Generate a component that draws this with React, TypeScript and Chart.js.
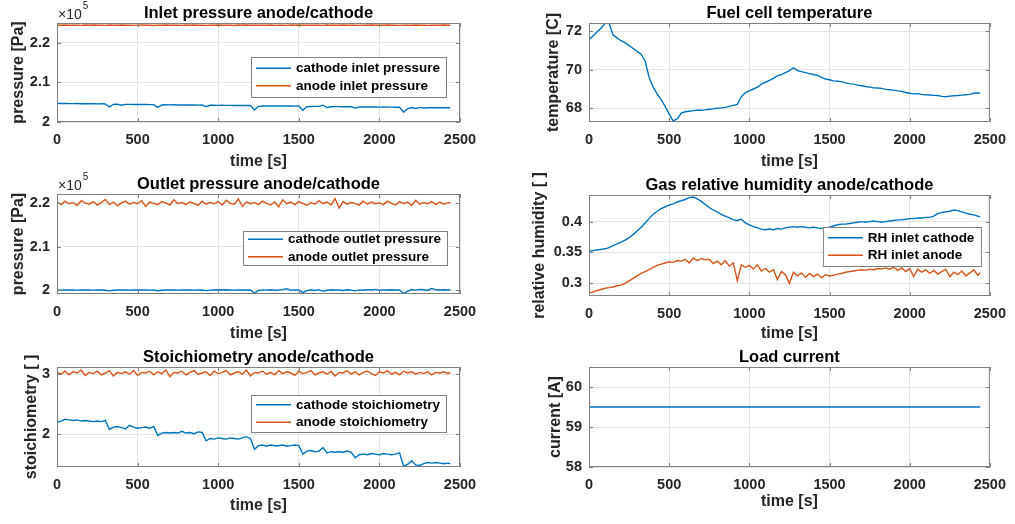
import React, { useEffect, useRef } from 'react';
import { Chart, registerables } from 'chart.js';

Chart.register(...registerables);

// ---------------- DATA ----------------
const timeS = [
  0, 25, 50, 75, 100, 125, 150, 175, 200, 225,
  250, 275, 300, 325, 350, 375, 400, 425, 450, 475,
  500, 525, 550, 575, 600, 625, 650, 675, 700, 725,
  750, 775, 800, 825, 850, 875, 900, 925, 950, 975,
  1000, 1025, 1050, 1075, 1100, 1125, 1150, 1175, 1200, 1225,
  1250, 1275, 1300, 1325, 1350, 1375, 1400, 1425, 1450, 1475,
  1500, 1525, 1550, 1575, 1600, 1625, 1650, 1675, 1700, 1725,
  1750, 1775, 1800, 1825, 1850, 1875, 1900, 1925, 1950, 1975,
  2000, 2025, 2050, 2075, 2100, 2125, 2150, 2175, 2200, 2225,
  2250, 2275, 2300, 2325, 2350, 2375, 2400, 2425, 2440,
];

const cathodeInletPressure = [
  204700, 204680, 204700, 204660, 204650, 204660, 204620, 204640, 204600, 204610,
  204580, 204590, 204560, 203800, 204450, 204480, 204250, 204440, 204460, 204420,
  204430, 204410, 204420, 204400, 204390, 203700, 204300, 204350, 204330, 204340,
  204310, 204320, 204300, 204290, 204300, 204270, 204280, 203850, 204220, 204230,
  204200, 204220, 204190, 204200, 204170, 204180, 204160, 204170, 204150, 203000,
  203950, 204050, 204070, 204050, 204060, 204040, 204050, 204030, 204040, 204020,
  204030, 202950, 203850, 203930, 203950, 203940, 204250, 203650, 203850, 203880,
  203870, 203860, 203870, 203850, 203500, 203780, 203800, 203790, 203770, 203780,
  203760, 203770, 203750, 203760, 203740, 203720, 202500, 203300, 203650, 203400,
  203700, 203550, 203600, 203620, 203600, 203610, 203590, 203600, 203600,
];

const anodeInletPressure = [
  224480, 224430, 224500, 224420, 224470, 224450, 224390, 224480, 224440, 224510,
  224430, 224460, 224400, 224480, 224450, 224420, 224490, 224440, 224470, 224410,
  224460, 224500, 224430, 224450, 224380, 224470, 224440, 224490, 224420, 224460,
  224450, 224410, 224480, 224440, 224500, 224430, 224460, 224400, 224470, 224450,
  224490, 224420, 224460, 224440, 224380, 224480, 224450, 224510, 224430, 224460,
  224420, 224470, 224440, 224490, 224410, 224460, 224450, 224400, 224480, 224440,
  224500, 224430, 224460, 224420, 224470, 224450, 224390, 224480, 224440, 224460,
  224420, 224490, 224450, 224430, 224470, 224410, 224460, 224440, 224500, 224430,
  224450, 224420, 224480, 224440, 224460, 224400, 224470, 224450, 224430, 224490,
  224440, 224460, 224410, 224470, 224450, 224420, 224480, 224440, 224450,
];

const cathodeOutletPressure = [
  200000, 199980, 200010, 199990, 200000, 199970, 200010, 199990, 200000, 199980,
  200010, 199990, 199960, 199800, 199950, 200000, 199990, 200010, 199980, 200000,
  200010, 199990, 200000, 199980, 200000, 199830, 199960, 200010, 199990, 200000,
  199980, 200010, 199990, 200000, 199970, 199990, 200000, 199850, 199980, 200010,
  200050, 199990, 200060, 200010, 199970, 200040, 199990, 200020, 200000, 199300,
  199900, 200030, 199980, 200050, 199960, 200010, 200100, 200280, 199980, 200030,
  200000, 199400, 199850, 200050, 199900, 200080, 199700, 199950, 200070, 199990,
  200040, 199900, 200060, 199980, 199800, 200020, 199950, 200080, 200000, 200150,
  199960, 200030, 199990, 200050, 200000, 200020, 199200, 199700, 200100, 199980,
  200150, 200050, 199950, 200350, 200050, 200000, 200060, 200010, 200050,
];

const anodeOutletPressure = [
  220300, 219700, 220500, 219900, 220200, 219500, 220600, 220100, 219800, 220400,
  219600, 220200, 220900, 219700, 220300, 219400, 220100, 220500, 219800, 220200,
  219900, 220600, 219300, 220300, 220000, 219700, 220400, 220100, 219600, 220800,
  219900, 220200, 219700, 220300, 220000, 219500, 220500, 219800, 220200, 219900,
  220400, 219600, 220700, 220000, 219800, 221000, 219300, 220300, 219900, 220200,
  219700, 220500, 220000, 219600, 220300, 219200, 220800, 219900, 220300, 219700,
  220400, 220000, 219500, 220200, 219800, 220600, 219900, 220300, 219600, 221100,
  218900, 220400, 219800, 220200, 220000, 219600, 220500, 219800, 220300, 219900,
  220100, 219700, 220500, 220000, 219600, 220400, 219900, 220300, 219500, 220700,
  219800, 220200, 219900, 220400, 219700, 220300, 219800, 220100, 220200,
];

const cathodeStoichiometry = [
  2.20, 2.22, 2.25, 2.24, 2.23, 2.24, 2.22, 2.23, 2.22, 2.21,
  2.22, 2.21, 2.23, 2.08, 2.12, 2.13, 2.11, 2.09, 2.15, 2.12,
  2.10, 2.11, 2.12, 2.10, 2.13, 1.98, 2.02, 2.03, 2.02, 2.03,
  2.02, 2.05, 2.02, 2.03, 2.01, 2.04, 2.03, 1.89, 1.93, 1.92,
  1.94, 1.93, 1.92, 1.94, 1.93, 1.92, 1.94, 1.96, 1.93, 1.75,
  1.81, 1.82, 1.80, 1.82, 1.81, 1.81, 1.82, 1.80, 1.81, 1.82,
  1.81, 1.67, 1.72, 1.73, 1.71, 1.72, 1.78, 1.69, 1.71, 1.70,
  1.71, 1.70, 1.72, 1.70, 1.61, 1.66, 1.67, 1.66, 1.68, 1.67,
  1.66, 1.68, 1.67, 1.66, 1.67, 1.69, 1.47, 1.50, 1.56, 1.49,
  1.48, 1.51, 1.53, 1.52, 1.53, 1.52, 1.51, 1.52, 1.51,
];

const anodeStoichiometry = [
  3.03, 3.00, 3.05, 2.99, 3.04, 3.02, 3.07, 2.98, 3.03, 3.01,
  3.05, 2.99, 3.02, 3.06, 2.97, 3.03, 3.01, 3.04, 3.00, 3.06,
  2.98, 3.03, 3.02, 3.05, 2.99, 3.04, 3.01, 3.07, 2.96, 3.03,
  3.02, 3.05, 2.99, 3.03, 3.06, 3.00, 3.02, 3.04, 2.98, 3.05,
  3.01, 3.03, 3.06, 2.99, 3.02, 3.04, 3.00, 3.07, 2.97, 3.03,
  3.02, 3.05, 3.00, 3.03, 2.99, 3.06, 3.01, 3.04, 3.02, 2.98,
  3.05, 3.01, 3.03, 3.06, 2.99, 3.02, 3.04, 3.00, 3.05, 2.97,
  3.03, 3.02, 3.06, 3.00, 3.04, 2.99, 3.03, 3.05, 3.01, 2.98,
  3.04, 3.02, 3.06, 3.00, 3.03, 2.99, 3.05, 3.02, 3.04, 3.00,
  3.03, 3.01, 3.04, 2.99, 3.03, 3.02, 3.04, 3.01, 3.03,
];

const fuelCellTemperature = [
  71.55, 71.75, 71.95, 72.15, 72.40, 72.42, 71.80, 71.65, 71.50, 71.40,
  71.25, 71.10, 70.95, 70.80, 70.45, 69.60, 69.10, 68.75, 68.45, 68.10,
  67.70, 67.35, 67.45, 67.75, 67.82, 67.85, 67.88, 67.90, 67.90, 67.92,
  67.95, 67.97, 68.00, 68.02, 68.05, 68.10, 68.15, 68.20, 68.60, 68.80,
  68.90, 69.00, 69.10, 69.25, 69.35, 69.45, 69.55, 69.68, 69.75, 69.85,
  69.95, 70.10, 69.95, 69.90, 69.85, 69.80, 69.75, 69.70, 69.60, 69.52,
  69.48, 69.42, 69.40, 69.38, 69.32, 69.28, 69.25, 69.20, 69.17, 69.13,
  69.10, 69.06, 69.05, 69.03, 68.98, 68.96, 68.94, 68.90, 68.88, 68.82,
  68.78, 68.75, 68.76, 68.72, 68.70, 68.69, 68.67, 68.66, 68.62, 68.60,
  68.63, 68.65, 68.66, 68.68, 68.70, 68.72, 68.78, 68.80, 68.78,
];

const rhInletCathode = [
  0.352, 0.353, 0.354, 0.355, 0.356, 0.358, 0.361, 0.364, 0.367, 0.370,
  0.374, 0.379, 0.385, 0.391, 0.398, 0.405, 0.412, 0.417, 0.421, 0.424,
  0.427, 0.429, 0.432, 0.434, 0.436, 0.439, 0.440, 0.437, 0.433, 0.428,
  0.423, 0.419, 0.416, 0.412, 0.409, 0.406, 0.403, 0.402, 0.404, 0.398,
  0.395, 0.392, 0.390, 0.388, 0.387, 0.388, 0.387, 0.389, 0.388, 0.390,
  0.391, 0.392, 0.391, 0.392, 0.391, 0.390, 0.391, 0.390, 0.389, 0.390,
  0.391, 0.393, 0.395, 0.396, 0.396, 0.397, 0.398, 0.399, 0.400, 0.399,
  0.400, 0.401, 0.400, 0.399, 0.400, 0.401, 0.402, 0.403, 0.403, 0.404,
  0.405, 0.405, 0.406, 0.406, 0.407, 0.407, 0.409, 0.413, 0.415, 0.416,
  0.417, 0.419, 0.418, 0.416, 0.414, 0.412, 0.411, 0.409, 0.408,
];

const rhInletAnode = [
  0.284, 0.286, 0.288, 0.290, 0.292, 0.293, 0.294, 0.296, 0.297, 0.300,
  0.304, 0.308, 0.312, 0.316, 0.319, 0.322, 0.326, 0.329, 0.331, 0.333,
  0.335, 0.334, 0.337, 0.336, 0.339, 0.333, 0.341, 0.337, 0.340, 0.338,
  0.339, 0.332, 0.336, 0.330, 0.337, 0.328, 0.333, 0.304, 0.330, 0.326,
  0.329, 0.323, 0.330, 0.320, 0.324, 0.318, 0.322, 0.306, 0.319, 0.314,
  0.300, 0.318, 0.312, 0.317, 0.310, 0.316, 0.311, 0.315, 0.309, 0.314,
  0.312, 0.313, 0.315, 0.316, 0.318, 0.319, 0.320, 0.321, 0.322, 0.321,
  0.323, 0.322, 0.324, 0.323, 0.325, 0.323, 0.326, 0.321, 0.325, 0.319,
  0.324, 0.311, 0.323, 0.318, 0.322, 0.316, 0.321, 0.315, 0.319, 0.323,
  0.311, 0.318, 0.314, 0.320, 0.312, 0.317, 0.322, 0.313, 0.317,
];

const timeCurrent = [0, 2440];
const loadCurrent = [59.5, 59.5];

const timeTicks = [0, 500, 1000, 1500, 2000, 2500];
const timeTickLabels = ['0', '500', '1000', '1500', '2000', '2500'];
const inletPressureTicks = [200000, 210000, 220000];
const outletPressureTicks = [200000, 210000, 220000];
const pressureTickLabels = ['2', '2.1', '2.2'];
const stoichTicks = [2, 3];
const stoichTickLabels = ['2', '3'];
const temperatureTicks = [68, 70, 72];
const temperatureTickLabels = ['68', '70', '72'];
const humidityTicks = [0.3, 0.35, 0.4];
const humidityTickLabels = ['0.3', '0.35', '0.4'];
const currentTicks = [58, 59, 60];
const currentTickLabels = ['58', '59', '60'];

// ---------------- STYLE ----------------
const BLUE = '#0072BD';
const ORANGE = '#D95319';
const FRAME = '#808080';
const GRID = '#e3e3e3';
const TEXT = '#262626';
const FAMILY = '"Liberation Sans", Arial, Helvetica, sans-serif';

type Series = { label: string; x: number[]; y: number[]; color: string };
type Panel = {
  key: string;
  title: string;
  yTitle: string;
  canvas: { left: number; top: number; width: number; height: number };
  area: { left: number; top: number; right: number; bottom: number };
  yTitleX: number;
  xTitleY: number;
  yMin: number;
  yMax: number;
  yTicks: number[];
  yTickLabels: string[];
  series: Series[];
  legend?: { rightInset: number; topInset: number; height: number };
  exponent?: string;
};

const panels: Panel[] = [
  {
    key: 'inlet',
    title: 'Inlet pressure anode/cathode',
    yTitle: 'pressure [Pa]',
    canvas: { left: 0, top: 0, width: 520, height: 170 },
    area: { left: 57, top: 23, right: 460, bottom: 122 },
    yTitleX: 19,
    xTitleY: 162,
    yMin: 200000,
    yMax: 225000,
    yTicks: inletPressureTicks,
    yTickLabels: pressureTickLabels,
    series: [
      { label: 'cathode inlet pressure', x: timeS, y: cathodeInletPressure, color: BLUE },
      { label: 'anode inlet pressure', x: timeS, y: anodeInletPressure, color: ORANGE },
    ],
    legend: { rightInset: 14, topInset: 34, height: 40 },
    exponent: '5',
  },
  {
    key: 'temp',
    title: 'Fuel cell temperature',
    yTitle: 'temperature [C]',
    canvas: { left: 520, top: 0, width: 495, height: 170 },
    area: { left: 69, top: 23, right: 473, bottom: 122 },
    yTitleX: 34,
    xTitleY: 162,
    yMin: 67.29,
    yMax: 72.42,
    yTicks: temperatureTicks,
    yTickLabels: temperatureTickLabels,
    series: [{ label: 'temperature', x: timeS, y: fuelCellTemperature, color: BLUE }],
  },
  {
    key: 'outlet',
    title: 'Outlet pressure anode/cathode',
    yTitle: 'pressure [Pa]',
    canvas: { left: 0, top: 170, width: 520, height: 172 },
    area: { left: 57, top: 24, right: 460, bottom: 124 },
    yTitleX: 19,
    xTitleY: 164,
    yMin: 199080,
    yMax: 222150,
    yTicks: outletPressureTicks,
    yTickLabels: pressureTickLabels,
    series: [
      { label: 'cathode outlet pressure', x: timeS, y: cathodeOutletPressure, color: BLUE },
      { label: 'anode outlet pressure', x: timeS, y: anodeOutletPressure, color: ORANGE },
    ],
    legend: { rightInset: 13, topInset: 37, height: 34 },
    exponent: '5',
  },
  {
    key: 'rh',
    title: 'Gas relative humidity anode/cathode',
    yTitle: 'relative humidity [ ]',
    canvas: { left: 520, top: 170, width: 495, height: 172 },
    area: { left: 69, top: 25, right: 473, bottom: 126 },
    yTitleX: 20,
    xTitleY: 164,
    yMin: 0.2794,
    yMax: 0.4433,
    yTicks: humidityTicks,
    yTickLabels: humidityTickLabels,
    series: [
      { label: 'RH inlet cathode', x: timeS, y: rhInletCathode, color: BLUE },
      { label: 'RH inlet anode', x: timeS, y: rhInletAnode, color: ORANGE },
    ],
    legend: { rightInset: 9, topInset: 32, height: 39 },
  },
  {
    key: 'stoich',
    title: 'Stoichiometry anode/cathode',
    yTitle: 'stoichiometry [ ]',
    canvas: { left: 0, top: 342, width: 520, height: 182 },
    area: { left: 57, top: 25, right: 460, bottom: 125 },
    yTitleX: 32,
    xTitleY: 164,
    yMin: 1.455,
    yMax: 3.12,
    yTicks: stoichTicks,
    yTickLabels: stoichTickLabels,
    series: [
      { label: 'cathode stoichiometry', x: timeS, y: cathodeStoichiometry, color: BLUE },
      { label: 'anode stoichiometry', x: timeS, y: anodeStoichiometry, color: ORANGE },
    ],
    legend: { rightInset: 14, topInset: 28, height: 37 },
  },
  {
    key: 'current',
    title: 'Load current',
    yTitle: 'current [A]',
    canvas: { left: 520, top: 342, width: 495, height: 182 },
    area: { left: 69, top: 25, right: 473, bottom: 125 },
    yTitleX: 36,
    xTitleY: 160,
    yMin: 58,
    yMax: 60.5,
    yTicks: currentTicks,
    yTickLabels: currentTickLabels,
    series: [{ label: 'current', x: timeCurrent, y: loadCurrent, color: BLUE }],
  },
];

function decorPlugin(p: Panel) {
  return {
    id: 'matlabDecor',
    afterDatasetsDraw(chart: any) {
      const { ctx, chartArea: a, scales } = chart;
      ctx.save();
      // inward tick marks
      ctx.strokeStyle = FRAME;
      ctx.lineWidth = 1;
      ctx.beginPath();
      for (const v of timeTicks) {
        const px = Math.round(scales.x.getPixelForValue(v)) + 0.5;
        ctx.moveTo(px, a.bottom);
        ctx.lineTo(px, a.bottom - 4);
        ctx.moveTo(px, a.top);
        ctx.lineTo(px, a.top + 4);
      }
      for (const v of p.yTicks) {
        const py = Math.round(scales.y.getPixelForValue(v)) + 0.5;
        ctx.moveTo(a.left, py);
        ctx.lineTo(a.left + 4, py);
        ctx.moveTo(a.right, py);
        ctx.lineTo(a.right - 4, py);
      }
      ctx.stroke();
      // frame
      ctx.strokeRect(a.left + 0.5, a.top + 0.5, a.right - a.left - 1, a.bottom - a.top - 1);

      // title
      ctx.fillStyle = '#000';
      ctx.font = `bold 16.5px ${FAMILY}`;
      ctx.textAlign = 'center';
      ctx.textBaseline = 'alphabetic';
      ctx.fillText(p.title, (a.left + a.right) / 2, a.top - 5.5);

      // exponent
      if (p.exponent) {
        ctx.fillStyle = TEXT;
        ctx.textAlign = 'left';
        ctx.font = `14px ${FAMILY}`;
        const base = '\u00d710';
        ctx.fillText(base, a.left + 1, a.top - 4);
        const w = ctx.measureText(base).width;
        ctx.font = `10px ${FAMILY}`;
        ctx.fillText(p.exponent, a.left + 2 + w, a.top - 14);
      }

      // legend
      if (p.legend) {
        const lg = p.legend;
        ctx.font = `bold 13.5px ${FAMILY}`;
        let tw = 0;
        for (const s of p.series) tw = Math.max(tw, ctx.measureText(s.label).width);
        const boxW = Math.round(5 + 35 + 5 + tw + 6);
        const right = a.right - lg.rightInset;
        const left = right - boxW;
        const top = a.top + lg.topInset;
        ctx.fillStyle = '#fff';
        ctx.fillRect(left, top, boxW, lg.height);
        ctx.strokeStyle = FRAME;
        ctx.strokeRect(left + 0.5, top + 0.5, boxW, lg.height);
        const mid = top + lg.height / 2;
        const gap = 17.5;
        p.series.forEach((s, i) => {
          const cy = mid + (i - (p.series.length - 1) / 2) * gap;
          ctx.strokeStyle = s.color;
          ctx.lineWidth = 1.5;
          ctx.beginPath();
          ctx.moveTo(left + 5, cy);
          ctx.lineTo(left + 40, cy);
          ctx.stroke();
          ctx.fillStyle = '#000';
          ctx.textAlign = 'left';
          ctx.textBaseline = 'middle';
          ctx.fillText(s.label, left + 45, cy + 0.5);
        });
      }
      ctx.restore();
    },
  };
}

function PanelChart({ p }: { p: Panel }) {
  const ref = useRef<HTMLCanvasElement | null>(null);
  useEffect(() => {
    if (!ref.current) return;
    const c = p.canvas;
    const tickFont = { family: FAMILY, size: 14.5, weight: 'bold' as const };
    const labelFont = { family: FAMILY, size: 16, weight: 'bold' as const, lineHeight: 1.2 };
    const chart = new Chart(ref.current, {
      type: 'line',
      data: {
        datasets: p.series.map((s, i) => ({
          label: s.label,
          data: s.x.map((x, j) => ({ x, y: s.y[j] })),
          borderColor: s.color,
          backgroundColor: s.color,
          borderWidth: 1.4,
          pointRadius: 0,
          tension: 0,
          fill: false,
          order: p.series.length - i,
        })),
      },
      options: {
        responsive: false,
        animation: false,
        devicePixelRatio: 1,
        layout: {
          padding: { top: p.area.top, right: c.width - p.area.right, bottom: 0, left: 0 },
        },
        plugins: {
          legend: { display: false },
          tooltip: { enabled: false },
          title: { display: false },
        },
        scales: {
          x: {
            type: 'linear',
            min: 0,
            max: 2500,
            afterBuildTicks: (axis: any) => {
              axis.ticks = timeTicks.map((v) => ({ value: v }));
            },
            afterFit: (axis: any) => {
              axis.height = c.height - p.area.bottom;
            },
            ticks: {
              autoSkip: false,
              maxRotation: 0,
              padding: 9,
              color: TEXT,
              font: tickFont,
              callback: (_v: any, i: number) => timeTickLabels[i],
            },
            grid: { color: GRID, drawTicks: false },
            border: { display: false },
            title: {
              display: true,
              text: 'time [s]',
              color: TEXT,
              font: labelFont,
              padding: { top: 0, bottom: c.height - p.xTitleY - 9.6 },
            },
          },
          y: {
            type: 'linear',
            min: p.yMin,
            max: p.yMax,
            afterBuildTicks: (axis: any) => {
              axis.ticks = p.yTicks.map((v) => ({ value: v }));
            },
            afterFit: (axis: any) => {
              axis.width = p.area.left;
            },
            ticks: {
              autoSkip: false,
              padding: 7,
              color: TEXT,
              font: tickFont,
              callback: (_v: any, i: number) => p.yTickLabels[i],
            },
            grid: { color: GRID, drawTicks: false },
            border: { display: false },
            title: {
              display: true,
              text: p.yTitle,
              color: TEXT,
              font: labelFont,
              padding: { top: p.yTitleX - 9.6, bottom: 0 },
            },
          },
        },
      },
      plugins: [decorPlugin(p)],
    } as any);
    return () => chart.destroy();
  }, [p]);
  return (
    <canvas
      ref={ref}
      width={p.canvas.width}
      height={p.canvas.height}
      style={{
        position: 'absolute',
        left: p.canvas.left,
        top: p.canvas.top,
        width: p.canvas.width,
        height: p.canvas.height,
        display: 'block',
      }}
    />
  );
}

export default function App() {
  return (
    <div
      style={{
        position: 'fixed',
        left: 0,
        top: 0,
        width: 1015,
        height: 524,
        background: '#fff',
        overflow: 'hidden',
      }}
    >
      {panels.map((p) => (
        <PanelChart key={p.key} p={p} />
      ))}
    </div>
  );
}
